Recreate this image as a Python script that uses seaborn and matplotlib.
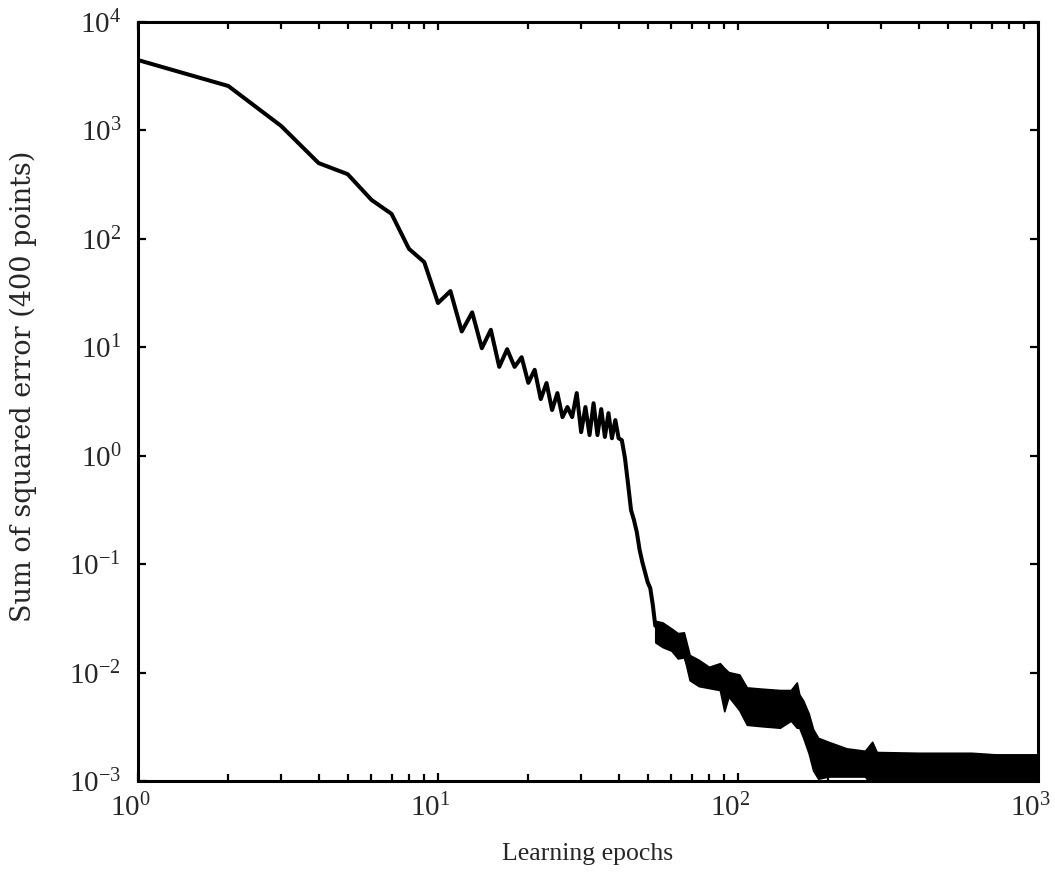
import numpy as np
import pandas as pd
import matplotlib
matplotlib.use("Agg")
import matplotlib.pyplot as plt
import matplotlib.transforms as mtransforms
from matplotlib.ticker import LogLocator, FuncFormatter, NullFormatter, NullLocator
import seaborn as sns

# Training error per epoch during the early phase (epochs 1-53)
early_epochs = list(range(1, 54))
early_sse = [4460, 2570, 1100, 500, 395, 229, 170, 81, 61, 25.6,
             33, 14, 21, 9.8, 14.5, 6.6, 9.6, 6.6, 8.1, 4.7,
             6.2, 3.33, 4.68, 2.64, 3.78, 2.27, 2.81, 2.27, 3.78, 1.65,
             2.81, 1.55, 3.05, 1.55, 2.69, 1.49, 2.47, 1.45, 2.13, 1.45,
             1.39, 0.95, 0.55, 0.315, 0.255, 0.197, 0.135, 0.104, 0.084, 0.068,
             0.060, 0.042, 0.027]

# Later epochs oscillate rapidly; the spread is kept as lower/upper envelopes
band_epochs = [53, 56, 60, 63, 66, 67, 69, 74, 80, 87, 90, 93, 101, 107,
               120, 138, 150, 157, 160, 165, 172, 178, 185, 200, 230, 265,
               280, 290, 400, 600, 720, 1000]
band_low = [0.019, 0.0172, 0.0159, 0.0135, 0.0138, 0.012, 0.0085, 0.0075,
            0.0072, 0.0069, 0.0044, 0.0060, 0.0045, 0.0033,
            0.0032, 0.0031, 0.0036, 0.0031, 0.0031, 0.0025, 0.0018, 0.00125,
            0.00105, 0.0011, 0.0011, 0.0011,
            0.0009, 0.0009, 0.0009, 0.0009, 0.0009, 0.0009]
band_high = [0.030, 0.029, 0.0255, 0.0231, 0.0235, 0.020, 0.0145, 0.0131,
             0.0113, 0.0122, 0.011, 0.0101, 0.0096, 0.0073,
             0.0071, 0.0069, 0.0069, 0.0081, 0.0063, 0.0055, 0.0042, 0.0030,
             0.0025, 0.0023, 0.0020, 0.0019,
             0.0023, 0.00185, 0.00182, 0.00182, 0.00176, 0.00176]

x_label = "Learning epochs"
y_label = "Sum of squared error (400 points)"

sns.set_style("ticks")
plt.rcParams["font.family"] = ["Liberation Serif", "DejaVu Serif"]
plt.rcParams["mathtext.fontset"] = "custom"
plt.rcParams["mathtext.rm"] = "Liberation Serif"
plt.rcParams["mathtext.it"] = "Liberation Serif:italic"
plt.rcParams["mathtext.bf"] = "Liberation Serif:bold"

fig = plt.figure(figsize=(10.55, 8.88), dpi=100)
ax = fig.add_axes([0.1308, 0.1205, 0.8531, 0.8547])

early = pd.DataFrame({"epoch": early_epochs, "sse": early_sse})
sns.lineplot(data=early, x="epoch", y="sse", ax=ax, color="black",
             linewidth=2.9, estimator=None, sort=False)

ax.fill_between(band_epochs, band_low, band_high, color="black",
                linewidth=1.2, edgecolor="black")

ax.set_xscale("log")
ax.set_yscale("log")
ax.set_xlim(1, 1000)
ax.set_ylim(1e-3, 1e4)


def pow_label(v, pos):
    e = int(round(np.log10(v)))
    return r"$\mathregular{10^{%d}}$" % e


ax.xaxis.set_major_locator(LogLocator(base=10, numticks=10))
ax.xaxis.set_minor_locator(LogLocator(base=10, subs=np.arange(2, 10), numticks=20))
ax.xaxis.set_minor_formatter(NullFormatter())
ax.xaxis.set_major_formatter(FuncFormatter(pow_label))
ax.yaxis.set_major_locator(LogLocator(base=10, numticks=12))
ax.yaxis.set_minor_locator(NullLocator())
ax.yaxis.set_major_formatter(FuncFormatter(pow_label))

ax.tick_params(which="both", direction="in", top=True, right=True,
               color="black", width=1.6)
ax.tick_params(which="major", length=6)
ax.tick_params(which="minor", length=5)
ax.tick_params(axis="x", which="major", labelsize=21, pad=9)
ax.tick_params(axis="y", which="major", labelsize=21, pad=12)

for side in ["left", "right", "top", "bottom"]:
    ax.spines[side].set_visible(True)
    ax.spines[side].set_linewidth(2.2)
    ax.spines[side].set_color("black")

ax.set_xlabel(x_label, fontsize=18.5, labelpad=15)
ax.set_ylabel(y_label, fontsize=19.5, family="DejaVu Serif")
ax.yaxis.set_label_coords(-0.112, 0.52)

# Nudge the decade labels on the x axis slightly left
shift = mtransforms.ScaledTranslation(-8 / 100, 0, fig.dpi_scale_trans)
for lab in ax.get_xticklabels():
    lab.set_transform(lab.get_transform() + shift)

fig.savefig("out.png", dpi=100, facecolor="white")
